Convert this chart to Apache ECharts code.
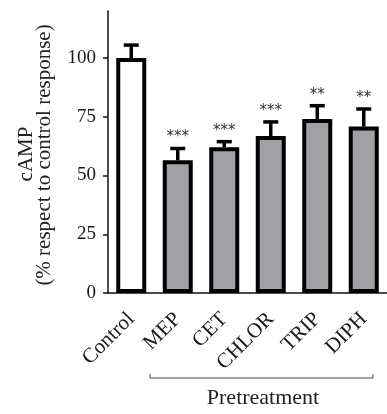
<!DOCTYPE html>
<html>
<head>
<meta charset="utf-8">
<script src="https://cdn.jsdelivr.net/npm/echarts@6/dist/echarts.min.js"></script>
<style>
  html, body { margin: 0; padding: 0; background: #fff; }
  #chart { width: 387px; height: 414px; }
</style>
</head>
<body>
<div id="chart"></div>
<script>
  const categories = ['Control', 'MEP', 'CET', 'CHLOR', 'TRIP', 'DIPH'];
  const means = [100, 56.5, 62, 66.8, 74, 70.8];
  const errors = [5.5, 5, 2.4, 6, 5.7, 7.5];
  const stars = ['', '***', '***', '***', '**', '**'];
  const yTicks = [0, 25, 50, 75, 100];
  const fills = ['#ffffff', '#a1a0a5', '#a1a0a5', '#a1a0a5', '#a1a0a5', '#a1a0a5'];

  const font = 'Liberation Serif';
  const myChart = echarts.init(document.getElementById('chart'));

  const option = {
    animation: false,
    grid: { left: 108, right: -3, top: 11, bottom: 121 },
    xAxis: {
      type: 'category',
      data: categories,
      axisLine: { lineStyle: { color: '#111', width: 1.5 } },
      axisTick: { alignWithLabel: true, length: 6, lineStyle: { color: '#111', width: 1.5 } },
      axisLabel: {
        rotate: 45, margin: 23, fontFamily: font, fontSize: 21, color: '#1a1a1a', interval: 0
      }
    },
    yAxis: {
      type: 'value',
      min: 0,
      max: 120,
      splitLine: { show: false },
      axisLine: { show: true, lineStyle: { color: '#111', width: 1.5 } },
      axisTick: { show: true, length: 5, customValues: yTicks, lineStyle: { color: '#111', width: 1.5 } },
      axisLabel: { customValues: yTicks, margin: 12, fontFamily: font, fontSize: 19, color: '#1a1a1a' }
    },
    graphic: [
      {
        type: 'text',
        x: 26, y: 154,
        rotation: Math.PI / 2,
        style: {
          text: 'cAMP',
          font: '21px "Liberation Serif"',
          fill: '#222',
          align: 'center',
          verticalAlign: 'middle'
        }
      },
      {
        type: 'text',
        x: 44.5, y: 155,
        rotation: Math.PI / 2,
        style: {
          text: '(% respect to control response)',
          font: '21px "Liberation Serif"',
          fill: '#222',
          align: 'center',
          verticalAlign: 'middle'
        }
      },
      {
        type: 'polyline',
        shape: { points: [[150, 374], [150, 378], [373, 378], [373, 374]] },
        style: { stroke: '#444', lineWidth: 1, fill: null }
      },
      {
        type: 'text',
        x: 263, y: 398,
        style: {
          text: 'Pretreatment',
          font: '22px "Liberation Serif"',
          fill: '#222',
          align: 'center',
          verticalAlign: 'middle'
        }
      }
    ],
    series: [
      {
        type: 'bar',
        barWidth: 30,
        data: means.map((v, i) => ({
          value: v,
          itemStyle: { color: fills[i], borderColor: '#000', borderWidth: 4 }
        })),
        z: 2
      },
      {
        type: 'custom',
        z: 3,
        data: means.map((v, i) => [i, v, v + errors[i], stars[i]]),
        renderItem: function (params, api) {
          const base = api.coord([api.value(0), api.value(1)]);
          const top = api.coord([api.value(0), api.value(2)]);
          const half = 7.5;
          return {
            type: 'group',
            children: [
              {
                type: 'line',
                shape: { x1: base[0], y1: base[1], x2: top[0], y2: top[1] },
                style: { stroke: '#000', lineWidth: 3.5 }
              },
              {
                type: 'line',
                shape: { x1: top[0] - half, y1: top[1], x2: top[0] + half, y2: top[1] },
                style: { stroke: '#000', lineWidth: 3.5 }
              },
              {
                type: 'text',
                x: top[0], y: top[1] - 11,
                style: {
                  text: api.value(3),
                  font: '15px "DejaVu Sans"',
                  fill: '#333',
                  align: 'center',
                  verticalAlign: 'middle'
                }
              }
            ]
          };
        }
      }
    ]
  };

  myChart.setOption(option);
</script>
</body>
</html>
